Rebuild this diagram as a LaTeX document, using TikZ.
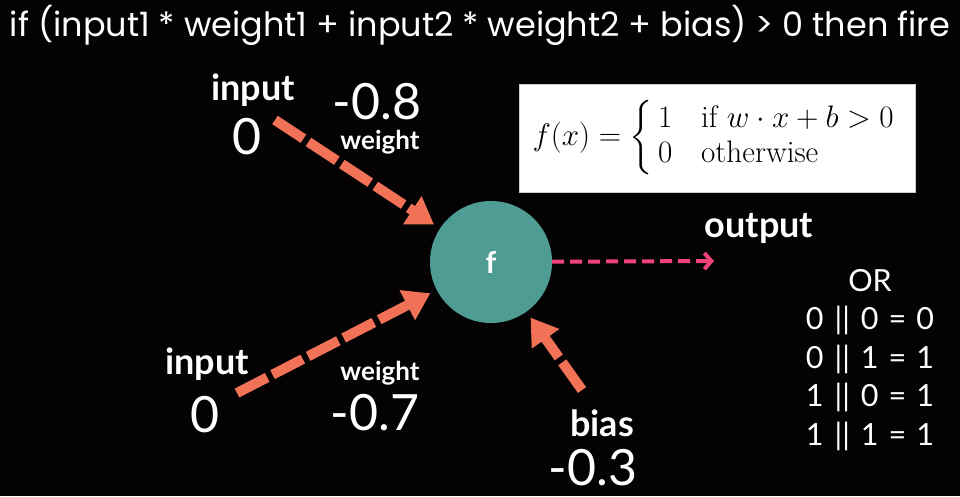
\documentclass[tikz,border=0pt]{standalone}
\usepackage{amsmath}
\usepackage{graphicx}
\usepackage{fontspec}
\newfontfamily\lato{Lato}
\newfontfamily\poppins{Poppins}
\usetikzlibrary{arrows.meta}

\definecolor{bgblack}{RGB}{5,2,3}
\definecolor{neurongreen}{RGB}{78,156,148}
\definecolor{coral}{RGB}{242,114,88}
\definecolor{hotpink}{RGB}{240,67,122}

\newcommand{\orrow}[3]{#1\hskip 11pt||\hskip 11pt#2\hskip 10pt=\hskip 10pt#3}

\tikzstyle{neuron}=[circle,fill=neurongreen,minimum size=122pt,inner sep=0pt,text=white,font=\lato\bfseries\fontsize{30}{32}\selectfont]
\tikzstyle{edge}=[line width=10pt,coral,dash pattern=on 34pt off 6pt,-{Triangle[length=26pt,width=32pt]},shorten >=7pt]
\tikzstyle{outedge}=[line width=4pt,hotpink,dash pattern=on 12pt off 6pt,-{Straight Barb[length=7pt,width=16pt]}]
\tikzstyle{biglabel}=[text=white,inner sep=0pt,font=\lato\bfseries\fontsize{36}{38}\selectfont]
\tikzstyle{smalllabel}=[text=white,inner sep=0pt,font=\lato\bfseries\fontsize{26}{28}\selectfont]
\tikzstyle{numlabel}=[text=white,inner sep=0pt,font=\lato\fontsize{50}{52}\selectfont]

\begin{document}
\begin{tikzpicture}[x=1pt,y=-1pt]
    \fill[bgblack] (0,0) rectangle (960,496);
    \useasboundingbox (0,0) rectangle (960,496);

    \node (title)[text=white,inner sep=0pt,font=\poppins\fontsize{33.5}{35}\selectfont] at (480,25)
        {if (input1 * weight1 + input2 * weight2 + bias) > 0 then fire};

    \node (f)[neuron] at (491,262) {f};

    \coordinate (in1) at (275,120);
    \coordinate (in2) at (237,393);
    \coordinate (bs) at (582,390);
    \coordinate (out) at (714,261);

    \draw[edge] (in1) -- (f);
    \draw[edge] (in2) -- (f);
    \draw[edge] (bs) -- (f);
    \draw[outedge] (f) -- (out);

    \node (input1)[biglabel] at (253,90) {input};
    \node (x1)[numlabel] at (247,137) {0};
    \node (w1)[numlabel] at (377,102) {-0.8};
    \node (weight1)[smalllabel] at (380,142) {weight};

    \node (input2)[biglabel] at (207,364) {input};
    \node (x2)[numlabel] at (205,415) {0};
    \node (weight2)[smalllabel] at (380,373) {weight};
    \node (w2)[numlabel] at (375,413) {-0.7};

    \node (bias)[biglabel] at (602,423) {bias};
    \node (b)[numlabel] at (593,468) {-0.3};

    \node (output)[biglabel] at (759,228) {output};

    \node (formula)[fill=white,draw=gray!40,minimum width=396pt,minimum height=108pt,
        font=\fontsize{24.88}{28}\selectfont] at (717,138)
        {\scalebox{1.25}{$f(x)=\left\{\begin{array}{@{\hspace{4pt}}l@{\hspace{23pt}}l}1 & \text{if } w\cdot x+b>0\\ 0 & \text{otherwise}\end{array}\right.$}};

    \node (ortable)[text=white,align=center,inner sep=0pt,font=\lato\fontsize{30.5}{38.5}\selectfont] at (870,360)
        {OR\\\orrow{0}{0}{0}\\\orrow{0}{1}{1}\\\orrow{1}{0}{1}\\\orrow{1}{1}{1}};
\end{tikzpicture}
\end{document}
